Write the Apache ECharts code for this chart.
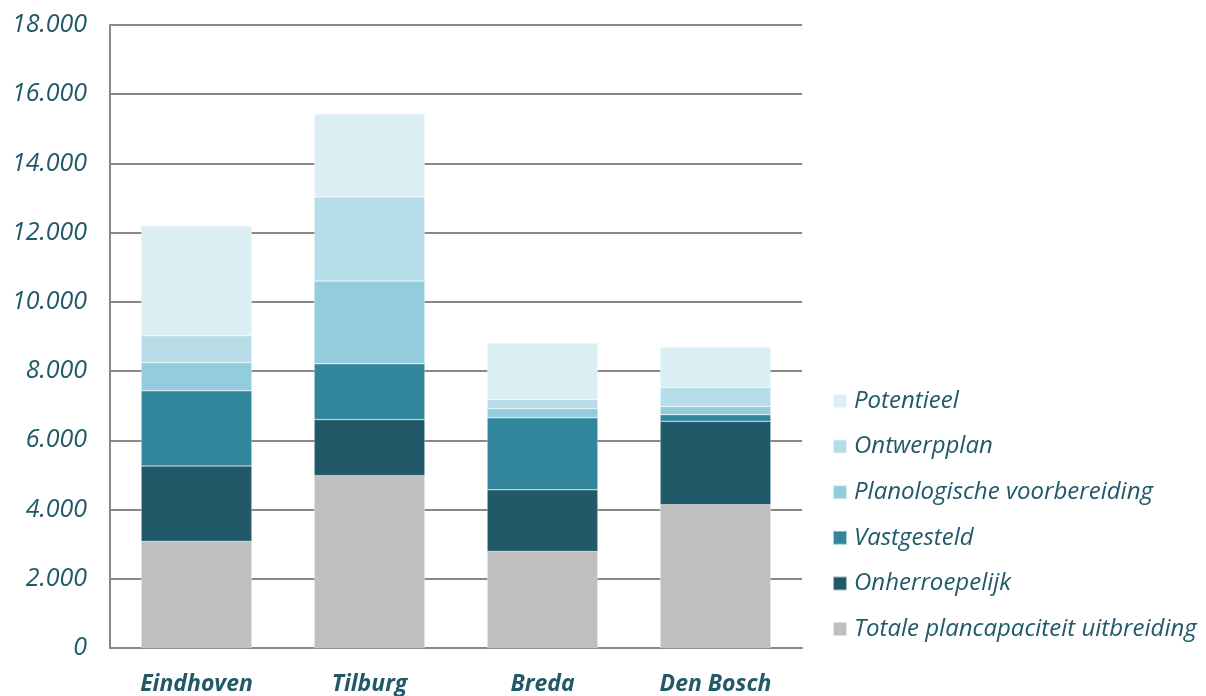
<!DOCTYPE html>
<html>
<head>
<meta charset="utf-8">
<script src="https://cdn.jsdelivr.net/npm/echarts@6/dist/echarts.min.js"></script>
<style>
  html, body { margin: 0; padding: 0; background: #ffffff; }
  #chart { width: 1206px; height: 696px; }
</style>
</head>
<body>
<div id="chart"></div>
<script>
// Gemeenten (categorieën op de x-as)
const categories = ['Eindhoven', 'Tilburg', 'Breda', 'Den Bosch'];

// Aantallen woningen per planfase, van onder naar boven gestapeld
const totalePlancapaciteit = [3080, 4980, 2790, 4140];
const onherroepelijk       = [2180, 1620, 1780, 2410];
const vastgesteld          = [2170, 1610, 2080, 190];
const planologisch         = [810, 2390, 270, 240];
const ontwerpplan          = [780, 2430, 260, 550];
const potentieel           = [3180, 2400, 1630, 1160];

const seriesNames = [
  'Totale plancapaciteit uitbreiding',
  'Onherroepelijk',
  'Vastgesteld',
  'Planologische voorbereiding',
  'Ontwerpplan',
  'Potentieel'
];
const seriesData = [totalePlancapaciteit, onherroepelijk, vastgesteld, planologisch, ontwerpplan, potentieel];
const seriesColors = ['#BFBFBF', '#215968', '#31859C', '#93CDDD', '#B7DEE8', '#DAEEF3'];

const textColor = '#215968';
const fontFamily = '"Open Sans", "DejaVu Sans", sans-serif';

const chart = echarts.init(document.getElementById('chart'), null, { renderer: 'canvas' });

chart.setOption({
  animation: false,
  backgroundColor: '#ffffff',
  grid: { left: 110, right: 404, top: 25, bottom: 46, containLabel: false },
  legend: {
    orient: 'vertical',
    left: 832,
    top: 389,
    padding: 0,
    itemWidth: 14,
    itemHeight: 14,
    itemGap: 21.6,
    icon: 'rect',
    data: seriesNames.slice().reverse(),
    textStyle: {
      color: textColor,
      fontFamily: fontFamily,
      fontStyle: 'italic',
      fontSize: 24,
      lineHeight: 24,
      padding: [0, 0, 0, 2]
    }
  },
  xAxis: {
    type: 'category',
    data: categories,
    axisLine: { show: true, lineStyle: { color: '#888888', width: 2 } },
    axisTick: { show: false },
    axisLabel: {
      margin: 25,
      color: textColor,
      fontFamily: fontFamily,
      fontStyle: 'italic',
      fontWeight: 'bold',
      fontSize: 23
    }
  },
  yAxis: {
    type: 'value',
    min: 0,
    max: 18000,
    interval: 2000,
    axisLine: { show: true, lineStyle: { color: '#888888', width: 2 } },
    axisTick: { show: false },
    splitLine: { show: true, lineStyle: { color: '#888888', width: 2 } },
    axisLabel: {
      margin: 23,
      color: textColor,
      fontFamily: fontFamily,
      fontStyle: 'italic',
      fontSize: 25,
      formatter: function (v) {
        return v === 0 ? '0' : v.toLocaleString('nl-NL').replace(/,/g, '.');
      }
    }
  },
  series: seriesNames.map(function (name, i) {
    return {
      name: name,
      type: 'bar',
      stack: 'plancapaciteit',
      barCategoryGap: '36%',
      data: seriesData[i],
      itemStyle: { color: seriesColors[i], borderColor: 'rgba(255,255,255,0.6)', borderWidth: 0.5 }
    };
  })
});
</script>
</body>
</html>
